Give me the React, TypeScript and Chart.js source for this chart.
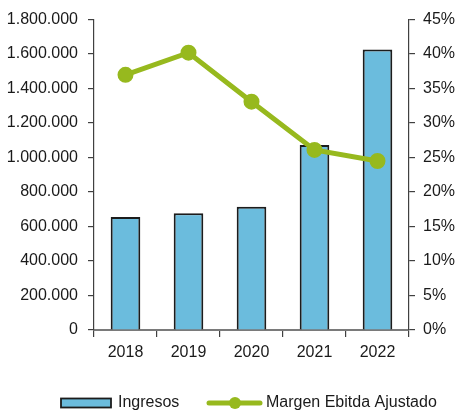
import React, { useEffect, useRef } from "react";
import { Chart, registerables } from "chart.js";

Chart.register(...registerables);

const categories = ["2018", "2019", "2020", "2021", "2022"];
const ingresos = [655000, 677000, 715000, 1073000, 1627000];
const margenEbitda = [0.37, 0.402, 0.331, 0.261, 0.245];
const seriesNames = ["Ingresos", "Margen Ebitda Ajustado"];

const BAR_COLOR = "#6BBCDD";
const BAR_BORDER = "#1c1c1c";
const LINE_COLOR = "#97B91E";
const FONT_FAMILY = "'Liberation Sans', Arial, sans-serif";
const FONT_SIZE = 16;

function fmtThousands(v: number): string {
  const s = Math.round(v).toString();
  return s.replace(/\B(?=(\d{3})+(?!\d))/g, ".");
}

const legendPlugin = {
  id: "customLegend",
  afterDraw(chart: any) {
    const ctx = chart.ctx;
    const ds = chart.data.datasets;
    ctx.save();
    ctx.font = `${FONT_SIZE}px ${FONT_FAMILY}`;
    ctx.textBaseline = "middle";
    const y = 403;
    // bar item
    ctx.fillStyle = ds[1].backgroundColor;
    ctx.fillRect(61, 398.5, 50, 9);
    ctx.strokeStyle = BAR_BORDER;
    ctx.lineWidth = 1.8;
    ctx.strokeRect(61, 398.5, 50, 9);
    ctx.fillStyle = "#1a1a1a";
    ctx.fillText(ds[1].label, 118, y);
    // line item
    ctx.strokeStyle = ds[0].borderColor;
    ctx.lineWidth = 5;
    ctx.lineCap = "round";
    ctx.beginPath();
    ctx.moveTo(209, y);
    ctx.lineTo(260, y);
    ctx.stroke();
    ctx.fillStyle = ds[0].borderColor;
    ctx.beginPath();
    ctx.arc(235, y, 6, 0, Math.PI * 2);
    ctx.fill();
    ctx.fillStyle = "#1a1a1a";
    ctx.fillText(ds[0].label, 266, y);
    ctx.restore();
  },
};

export default function App() {
  const ref = useRef<HTMLCanvasElement | null>(null);

  useEffect(() => {
    document.body.style.margin = "0";
    const canvas = ref.current;
    if (!canvas) return;
    const tickFont = { family: FONT_FAMILY, size: FONT_SIZE };
    const chart = new Chart(canvas, {
      type: "bar",
      data: {
        labels: categories,
        datasets: [
          {
            type: "line",
            label: seriesNames[1],
            data: margenEbitda,
            yAxisID: "y1",
            borderColor: LINE_COLOR,
            backgroundColor: LINE_COLOR,
            borderWidth: 5,
            pointRadius: 7,
            pointBorderWidth: 2,
            pointBackgroundColor: LINE_COLOR,
            pointBorderColor: LINE_COLOR,
            tension: 0,
            order: 0,
          } as any,
          {
            type: "bar",
            label: seriesNames[0],
            data: ingresos,
            yAxisID: "y",
            backgroundColor: BAR_COLOR,
            borderColor: BAR_BORDER,
            borderWidth: 2,
            categoryPercentage: 1,
            barPercentage: 0.47,
            order: 1,
          } as any,
        ],
      },
      options: {
        animation: false,
        responsive: false,
        maintainAspectRatio: false,
        layout: { padding: { top: 18, left: 0, right: 0, bottom: 0 } },
        plugins: {
          legend: { display: false },
          tooltip: { enabled: false },
        },
        scales: {
          x: {
            offset: true,
            grid: {
              offset: true,
              drawOnChartArea: false,
              drawTicks: true,
              tickLength: 7,
              color: "#404040",
              lineWidth: 1.2,
            },
            border: { display: true, color: "#7a7a7a", width: 2 },
            ticks: { font: tickFont, color: "#1a1a1a", padding: 6 },
            afterFit(scale: any) {
              scale.height = 83;
            },
          },
          y: {
            position: "left",
            min: 0,
            max: 1800000,
            ticks: {
              stepSize: 200000,
              font: tickFont,
              color: "#1a1a1a",
              padding: 10,
              callback: (v: any) => fmtThousands(Number(v)),
            },
            grid: {
              drawOnChartArea: false,
              drawTicks: true,
              tickLength: 6,
              color: "#404040",
              lineWidth: 1.2,
            },
            border: { display: true, color: "#404040", width: 1.2 },
            afterFit(scale: any) {
              scale.width = 94;
            },
          },
          y1: {
            position: "right",
            min: 0,
            max: 0.45,
            ticks: {
              stepSize: 0.05,
              font: tickFont,
              color: "#1a1a1a",
              padding: 8,
              callback: (v: any) => `${Math.round(Number(v) * 100)}%`,
            },
            grid: {
              drawOnChartArea: false,
              drawTicks: true,
              tickLength: 6,
              color: "#404040",
              lineWidth: 1.2,
            },
            border: { display: true, color: "#404040", width: 1.2 },
            afterFit(scale: any) {
              scale.width = 47;
            },
          },
        },
      },
      plugins: [legendPlugin],
    });
    return () => chart.destroy();
  }, []);

  return (
    <div style={{ width: 456, height: 413, background: "#fff" }}>
      <canvas ref={ref} width={456} height={413} style={{ width: 456, height: 413, display: "block" }} />
    </div>
  );
}
